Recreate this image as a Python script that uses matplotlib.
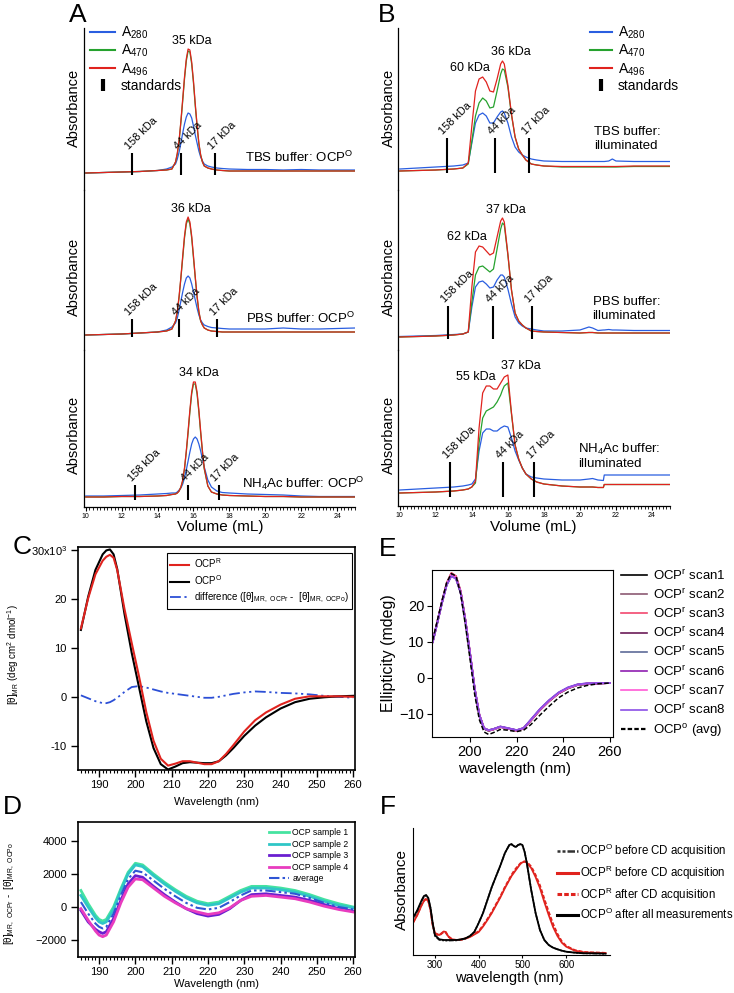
import numpy as np
import matplotlib
matplotlib.use('Agg')
from matplotlib import pyplot as plt
from matplotlib.lines import Line2D
from matplotlib.ticker import MultipleLocator

plt.rcParams['font.family'] = ['Liberation Sans', 'DejaVu Sans']
plt.rcParams['mathtext.default'] = 'regular'

W, H = 734, 993

# ---------------- size exclusion chromatograms (A, B) ----------------
vol_a = [10, 11, 12, 13, 14, 14.5, 14.8, 15.0, 15.1, 15.2, 15.3, 15.4, 15.5, 15.6, 15.7, 15.8, 15.9,
         16.0, 16.1, 16.2, 16.3, 16.4, 16.5, 16.6, 16.8, 17.0, 17.3, 17.6, 18, 19, 20, 21, 22, 23, 24, 25]

tbs_o_blue = [-1, -0.5, 0, 0.5, 1.5, 3, 5, 8, 13, 20, 29, 39, 48, 55, 59, 58, 54, 46, 37, 29, 21, 15, 11, 8,
              6, 5, 4, 3.5, 3, 2.5, 2.5, 2, 2.5, 2, 2, 2]
tbs_o_green = [-1, -0.5, 0, 0.5, 1.5, 2, 3, 10, 18, 31, 50, 71, 93, 111, 121, 120, 108, 89, 66, 46, 28, 17, 10, 6,
               4, 3, 2, 1.5, 1, 1, 1, 1, 1, 1, 1, 1]
tbs_o_red = [-1, -0.5, 0, 0.5, 1.5, 2, 3, 10, 19, 32, 51, 73, 95, 113, 123, 122, 110, 91, 68, 47, 29, 17, 10, 6,
             4, 3, 2, 1.5, 1, 1, 1, 1, 1, 1, 1, 1]

pbs_o_blue = [-2, -1.5, -1, 0, 1, 3, 6, 10, 15, 23, 32, 41, 49, 55, 57, 55, 49, 41, 33, 25, 18, 13, 10, 8,
              6.5, 5.5, 5, 4.5, 4, 4, 4, 5, 4, 4, 4.5, 5]
pbs_o_green = [-2, -1.5, -1, 0, 1, 2, 4, 12, 21, 36, 55, 75, 95, 109, 114, 109, 95, 75, 55, 36, 21, 12, 8, 5,
               3, 2, 1.5, 1, 1, 1, 1, 1, 1, 1, 1, 1]
pbs_o_red = [-2, -1.5, -1, 0, 1, 2, 4, 12, 22, 37, 56, 77, 97, 111, 116, 111, 97, 77, 56, 37, 22, 12, 8, 5,
             3, 2, 1.5, 1, 1, 1, 1, 1, 1, 1, 1, 1]

nh4_o_blue = [1, 1, 1.5, 2, 3, 3.5, 4, 4, 5, 7, 9, 13, 19, 27, 36, 45, 53, 58, 60, 58, 53, 46, 38, 30,
              17, 10, 6, 4.5, 4, 3, 2.5, 2, 1, 0.5, 0.5, 0.5]
nh4_o_green = [0, 0, 0.5, 0.5, 1, 1.5, 2.5, 3, 4, 6, 10, 16, 28, 45, 64, 85, 103, 113, 113, 103, 85, 64, 45, 28,
               11, 5, 3, 2, 1.5, 1, 0.5, 0.5, 0, 0, 0, 0]
nh4_o_red = [0, 0, 0.5, 0.5, 1, 1.5, 2.5, 3, 4, 6, 10, 17, 29, 46, 66, 87, 105, 115, 115, 105, 87, 66, 46, 29,
             11, 5, 3, 2, 1.5, 1, 0.5, 0.5, 0, 0, 0, 0]

vol_b = [10, 11, 12, 13, 13.5, 13.8, 14.0, 14.2, 14.4, 14.6, 14.8, 15.0, 15.2, 15.4, 15.6, 15.7, 15.8,
         16.0, 16.2, 16.4, 16.6, 16.8, 17.0, 17.3, 17.6, 18, 19, 20, 20.5, 20.7, 21.0, 21.3, 21.35,
         21.6, 21.8, 22.0, 23, 24, 25]

tbs_i_blue = [2, 3, 4, 5, 6, 8, 28, 48, 56, 58, 55, 48, 48, 54, 59, 60, 58, 48, 34, 24, 19, 16, 14, 12, 11, 10,
              9.5, 9.5, 9.5, 9.5, 9.5, 9.5, 9.5, 10, 12, 10, 9.5, 9.5, 9.5]
tbs_i_green = [0, 0.5, 1, 2, 3, 7, 30, 55, 68, 73, 70, 63, 64, 80, 97, 102, 101, 84, 56, 34, 22, 16, 11, 7, 6, 5,
               4, 4, 4, 4, 4, 4, 4, 4, 4, 4, 4.5, 4.5, 4.5]
tbs_i_red = [0, 0.5, 1, 2, 3, 8, 45, 80, 92, 94, 89, 80, 79, 92, 107, 110, 107, 86, 57, 34, 22, 16, 11, 7, 6, 5,
             4.5, 4.5, 4.5, 4.5, 4.5, 4.5, 4.5, 4.5, 4.5, 4.5, 5, 5, 5]

pbs_i_blue = [0.5, 1, 1.5, 2.5, 3, 5, 30, 50, 55, 56, 53, 49, 50, 57, 62, 62, 60, 48, 33, 20, 14, 11, 9, 8, 7, 6,
              6, 7, 10, 9, 6.5, 7, 7, 7.5, 7, 7, 6.5, 6.5, 6.5]
pbs_i_green = [0, 0.5, 1, 2, 3, 5, 35, 62, 70, 71, 68, 65, 68, 88, 108, 114, 112, 82, 47, 24, 16, 12, 9, 6, 5.5, 5,
               4.5, 4, 4.5, 4.5, 4, 4, 4, 4, 4, 4, 4, 4, 4]
pbs_i_red = [0, 0.5, 1, 2, 3, 5, 50, 85, 91, 90, 86, 82, 84, 100, 116, 119, 115, 83, 47, 24, 16, 12, 9, 6, 5.5, 5,
             4.5, 4, 4.5, 4.5, 4, 4, 4, 4, 4, 4, 4, 4, 4]

nh4_i_blue = [3, 4, 5, 6, 7, 8, 9, 14, 42, 60, 64, 64, 62, 62, 65, 66, 67, 66, 55, 42, 33, 25, 19, 16, 15, 14,
              13, 13, 14, 14.5, 13, 12.5, 18, 18, 18, 18, 18, 18, 18]
nh4_i_green = [0, 0.5, 1, 2, 3, 4, 6, 10, 50, 75, 82, 84, 86, 91, 98, 103, 107, 110, 79, 48, 34, 25, 19, 14, 11, 9,
               7, 6, 6, 6, 5.5, 5.5, 8.5, 8.5, 8.5, 8.5, 8.5, 8.5, 8.5]
nh4_i_red = [0, 0.5, 1, 2, 3, 4, 6, 12, 65, 100, 107, 107, 104, 104, 110, 113, 116, 118, 80, 48, 34, 25, 19, 14, 11, 9,
             7, 6, 6, 6, 5.5, 5.5, 8.5, 8.5, 8.5, 8.5, 8.5, 8.5, 8.5]

std_labels = ['158 kDa', '44 kDa', '17 kDa']
std_a = [[12.57, 15.3, 17.2], [12.6, 15.2, 17.3], [12.73, 15.7, 17.4]]
std_b = [[12.6, 15.3, 17.2], [12.67, 15.2, 17.33], [12.78, 15.72, 17.44]]

# peak label, elution volume of the peak
peaks_a = [[('35 kDa', 15.7)], [('36 kDa', 15.7)], [('34 kDa', 16.0)]]
peaks_b = [[('60 kDa', 14.6), ('36 kDa', 15.7)], [('62 kDa', 14.4), ('37 kDa', 15.7)],
           [('55 kDa', 14.8), ('37 kDa', 16.0)]]

buffers_a = ['TBS buffer: OCP$^{O}$', 'PBS buffer: OCP$^{O}$', 'NH$_4$Ac buffer: OCP$^{O}$']
buffers_b = ['TBS buffer:\nilluminated', 'PBS buffer:\nilluminated', 'NH$_4$Ac buffer:\nilluminated']

# ---------------- far-UV CD (C) ----------------
wl_c = [185, 187, 189, 191, 192, 193, 194, 195, 197, 199, 201, 203, 205, 207, 209, 211, 213, 215, 217, 219,
        221, 223, 225, 227, 230, 233, 236, 240, 244, 248, 252, 256, 260]
cd_ocp_r = [14.0, 20.2, 25.1, 27.9, 28.7, 29.1, 28.5, 26.0, 18.0, 11.0, 4.2, -3.1, -9.0, -12.7, -14.1, -13.7,
            -13.2, -13.2, -13.5, -13.8, -13.8, -13.2, -11.7, -9.9, -7.1, -4.8, -3.2, -1.6, -0.4, 0.1, 0.1, 0.1, 0.0]
cd_ocp_o = [13.7, 20.5, 26.0, 29.2, 30.0, 30.2, 29.2, 26.2, 17.0, 9.0, 2.0, -5.0, -10.5, -13.8, -14.9, -14.3,
            -13.6, -13.4, -13.5, -13.6, -13.6, -13.2, -12.0, -10.5, -8.0, -5.9, -4.2, -2.4, -1.1, -0.4, -0.1, 0.1, 0.2]
cd_diff = [0.3, -0.3, -0.9, -1.3, -1.3, -1.1, -0.7, -0.2, 1.0, 2.0, 2.2, 1.9, 1.5, 1.1, 0.8, 0.6, 0.4, 0.2,
           0.0, -0.2, -0.2, 0.0, 0.3, 0.6, 0.9, 1.1, 1.0, 0.8, 0.7, 0.5, 0.2, 0.0, -0.2]

# ---------------- difference spectra (D) ----------------
wl_d = [185, 187, 189, 190, 191, 192, 194, 196, 198, 200, 202, 205, 208, 211, 214, 217, 220, 223, 226, 229,
        232, 236, 240, 244, 248, 252, 256, 260]
diff_s1 = [1000, 200, -500, -750, -850, -750, 0, 1100, 2100, 2650, 2550, 2000, 1500, 1050, 650, 350, 200, 300,
           650, 1000, 1250, 1250, 1150, 1000, 750, 450, 200, 0]
diff_s2 = [700, 0, -650, -900, -1000, -900, -150, 1000, 2000, 2550, 2450, 1900, 1400, 950, 550, 250, 100, 200,
           550, 900, 1150, 1150, 1050, 900, 650, 350, 100, -50]
diff_s3 = [-200, -900, -1350, -1500, -1600, -1500, -700, 400, 1400, 1900, 1800, 1250, 750, 300, -100, -400, -550,
           -450, -100, 400, 750, 800, 700, 600, 400, 150, -100, -250]
diff_s4 = [-100, -800, -1450, -1700, -1800, -1700, -900, 250, 1200, 1700, 1650, 1150, 650, 250, -100, -300, -450,
           -350, -50, 400, 650, 700, 600, 500, 300, 50, -150, -300]
diff_avg = [300, -400, -1000, -1200, -1300, -1200, -400, 700, 1700, 2200, 2100, 1600, 1100, 650, 250, -50, -150,
            -50, 300, 700, 1000, 1000, 900, 800, 550, 250, 0, -150]

# ---------------- CD scans (E) ----------------
wl_e = [184, 186, 188, 190, 192, 194, 196, 198, 200, 202, 204, 206, 208, 210, 213, 216, 220, 223, 226, 230,
        234, 238, 242, 246, 250, 255, 260]
scans = [
    [10.2, 15.6, 21.2, 26.3, 29.0, 28.2, 24.0, 16.0, 6.6, -3.2, -10.5, -14.1, -14.7, -14.3, -13.6, -14.0, -14.6,
     -14.0, -11.9, -8.9, -6.4, -4.3, -2.9, -2.0, -1.7, -1.5, -1.4],
    [10.0, 15.4, 21.0, 26.0, 28.7, 27.9, 23.9, 16.1, 6.9, -2.9, -10.2, -14.0, -14.6, -14.2, -13.5, -14.0, -14.6,
     -13.9, -11.8, -8.8, -6.3, -4.2, -2.8, -1.9, -1.6, -1.5, -1.4],
    [10.3, 15.7, 21.3, 26.4, 29.2, 28.3, 24.1, 16.2, 6.9, -3.0, -10.3, -14.0, -14.6, -14.3, -13.6, -14.1, -14.7,
     -14.1, -11.9, -8.9, -6.4, -4.2, -2.8, -1.9, -1.6, -1.5, -1.4],
    [9.9, 15.3, 20.9, 25.9, 28.5, 27.7, 23.7, 15.9, 6.7, -3.1, -10.4, -14.1, -14.6, -14.3, -13.6, -14.0, -14.6,
     -14.0, -11.8, -8.8, -6.3, -4.2, -2.8, -1.9, -1.6, -1.5, -1.4],
    [10.1, 15.5, 21.1, 26.1, 28.6, 27.8, 23.8, 16.0, 6.8, -3.0, -10.3, -14.0, -14.5, -14.2, -13.6, -14.0, -14.5,
     -14.0, -11.7, -8.7, -6.2, -4.1, -2.7, -1.9, -1.6, -1.5, -1.4],
    [10.0, 15.5, 21.0, 25.9, 28.4, 27.6, 23.7, 16.0, 6.9, -2.9, -10.2, -13.9, -14.5, -14.2, -13.5, -13.9, -14.5,
     -13.9, -11.7, -8.7, -6.2, -4.1, -2.7, -1.8, -1.5, -1.5, -1.4],
    [10.1, 15.6, 21.1, 26.2, 28.8, 28.0, 23.9, 16.1, 6.9, -3.0, -10.3, -14.0, -14.6, -14.3, -13.6, -14.0, -14.6,
     -14.0, -11.8, -8.8, -6.3, -4.2, -2.8, -1.9, -1.6, -1.5, -1.4],
    [10.0, 15.4, 20.9, 25.8, 28.3, 27.5, 23.6, 15.9, 6.8, -3.0, -10.3, -14.0, -14.5, -14.2, -13.5, -13.9, -14.5,
     -13.9, -11.6, -8.6, -6.1, -4.0, -2.6, -1.8, -1.5, -1.4, -1.4],
]
scan_avg_o = [10.5, 16.0, 21.5, 26.5, 29.0, 28.3, 23.3, 14.8, 5.3, -4.6, -11.6, -15.0, -15.7, -15.2, -14.3, -14.5,
              -14.9, -14.5, -13.0, -10.3, -7.8, -5.5, -3.9, -2.8, -2.1, -1.6, -1.4]
scan_colors = ['#000000', '#8c5a73', '#f2486e', '#6b1b57', '#5d6b98', '#8f1fb0', '#ff5ad6', '#8b4fe6']

# ---------------- UV-vis absorbance (F) ----------------
wl_f = [250, 260, 270, 275, 280, 285, 290, 295, 300, 310, 320, 325, 330, 340, 350, 360, 370, 380, 390, 400,
        410, 420, 430, 440, 450, 460, 470, 475, 480, 485, 490, 495, 500, 505, 510, 520, 530, 540, 550, 560,
        570, 580, 590, 600, 620, 640, 660, 680, 690]
abs_o_before = [36, 44, 54, 58.5, 59.5, 56.5, 47, 31, 19, 15, 14.5, 14.3, 14.3, 14.5, 14.6, 15.3, 16.5, 19, 23, 32,
                42, 55, 68, 79, 90, 102, 110, 110.5, 109, 108, 110, 110.5, 109.5, 103, 92, 65, 42, 25, 15, 10,
                7.3, 5.7, 4.3, 3.3, 2.3, 1.7, 1.5, 1.3, 1]
abs_r_before = [32, 40, 50, 54, 56, 54, 45, 30, 22, 20, 23.5, 23, 19, 15.5, 15, 15.3, 16.5, 18, 20.5, 23,
                28.5, 35, 42, 50, 58, 67, 75, 79, 82, 85, 88, 91, 92.7, 93.3, 92.3, 87, 78, 67, 53, 40,
                28, 19, 12.3, 8.3, 4.3, 2.7, 2.3, 2, 2]
abs_r_after = [32.5, 40.5, 50.5, 54.5, 56.5, 54, 45, 30, 21.5, 19.5, 23, 22.5, 18.5, 15.3, 15, 15.3, 16.5, 18.3,
               21, 23.8, 29.5, 36, 43, 51, 59, 68, 76, 80, 83.5, 86.5, 89, 91.5, 93, 93.6, 93, 88.5, 80, 69.5,
               56, 43, 31, 21, 13.5, 9, 4.8, 3, 2.5, 2.3, 2]
abs_o_after = [37, 45, 55, 59, 60, 57, 47, 32, 20, 15.7, 15, 15, 15, 15, 15, 15.7, 16.7, 19, 23, 32,
               42, 55, 68, 79, 90, 102, 110, 111, 109, 108, 110, 111, 110, 103, 92, 65, 42, 25, 15, 10,
               7.3, 5.7, 4.3, 3.3, 2.3, 1.7, 1.7, 1.5, 1.3]

BLUE, GREEN, RED = '#2a5ee0', '#26a22e', '#e0231e'

fig = plt.figure(figsize=(W / 100, H / 100), dpi=100)


def px_axes(x0, y0, x1, y1):
    ax = fig.add_axes([x0 / W, 1 - y1 / H, (x1 - x0) / W, (y1 - y0) / H])
    ax.patch.set_alpha(0)
    return ax


def ftext(x, y, s, **kw):
    fig.text(x / W, 1 - y / H, s, **kw)


def chrom(box, ylim, vol, blue, green, red, stds, span, peaks, offs, buf, buf_xy, buf_ha, bottom):
    ax = px_axes(*box)
    ax.plot(vol, blue, color=BLUE, lw=0.9)
    ax.plot(vol, green, color=GREEN, lw=0.9)
    ax.plot(vol, red, color=RED, lw=0.9)
    ax.set_xlim(9.9, 25.0)
    ax.set_ylim(*ylim)
    ax.vlines(stds, span[0], span[1], color='k', lw=1.5)
    for v, lab in zip(stds, std_labels):
        ax.text(v - 0.1, span[1] + 2, lab, rotation=45, rotation_mode='anchor',
                ha='left', va='bottom', fontsize=7.8)
    for (lab, v), (dx, dy) in zip(peaks, offs):
        ax.annotate(lab, (v, red[vol.index(v)]), xytext=(dx * 0.72, dy * 0.72),
                    textcoords='offset points', ha='center', va='bottom', fontsize=9)
    ax.text(buf_xy[0], buf_xy[1], buf, ha=buf_ha, va='center', fontsize=9.5, linespacing=1.15)
    for s in ['top', 'right']:
        ax.spines[s].set_visible(False)
    ax.spines['left'].set_linewidth(0.9)
    ax.set_yticks([])
    if bottom:
        ax.spines['bottom'].set_linewidth(0.9)
        ax.set_xticks(range(10, 25, 2))
        ax.xaxis.set_minor_locator(MultipleLocator(0.2))
        ax.tick_params(axis='x', which='major', direction='out', length=3, width=0.8, labelsize=5, pad=1.5)
        ax.tick_params(axis='x', which='minor', direction='out', length=2, width=0.6)
    else:
        ax.spines['bottom'].set_visible(False)
        ax.set_xticks([])
    return ax


# panel A
rows = [(28, 190), (190, 350), (350, 507)]
ylims_a = [(-18, 144), (-17, 143), (-10, 147)]
spans_a = [(-3, 19), (-4, 14), (-3, 12)]
offs_a = [[(4, 2)], [(3, 2)], [(5, 3)]]
traces_a = [(tbs_o_blue, tbs_o_green, tbs_o_red), (pbs_o_blue, pbs_o_green, pbs_o_red),
            (nh4_o_blue, nh4_o_green, nh4_o_red)]
bufpos_a = [(24.9, 15), (25.0, 15), (25.55, 14)]
for i in range(3):
    b, g, r = traces_a[i]
    chrom((84, rows[i][0], 355, rows[i][1]), ylims_a[i], vol_a, b, g, r, std_a[i], spans_a[i],
          peaks_a[i], offs_a[i], buffers_a[i], bufpos_a[i], 'right', i == 2)

# panel B
rows_b = [(28, 190), (190, 350), (350, 506)]
ylims_b = [(-19, 143), (-13, 147), (-13, 143)]
spans_b = [(-2, 33), (-2, 31), (-4, 31)]
offs_b = [[(-13, 3), (8, 3)], [(-12, 3), (3, 2)], [(-10, 3), (13, 3)]]
traces_b = [(tbs_i_blue, tbs_i_green, tbs_i_red), (pbs_i_blue, pbs_i_green, pbs_i_red),
            (nh4_i_blue, nh4_i_green, nh4_i_red)]
bufpos_b = [(20.8, 32), (20.7, 28), (19.9, 37)]
for i in range(3):
    b, g, r = traces_b[i]
    chrom((398, rows_b[i][0], 670, rows_b[i][1]), ylims_b[i], vol_b, b, g, r, std_b[i], spans_b[i],
          peaks_b[i], offs_b[i], buffers_b[i], bufpos_b[i], 'left', i == 2)

for yy in [108, 277, 435]:
    ftext(74, yy, 'Absorbance', rotation=90, ha='center', va='center', fontsize=10.5)
    ftext(389, yy, 'Absorbance', rotation=90, ha='center', va='center', fontsize=10.5)
ftext(220, 527, 'Volume (mL)', ha='center', va='center', fontsize=11)
ftext(533, 527, 'Volume (mL)', ha='center', va='center', fontsize=11)

std_handle = Line2D([], [], color='k', marker='|', ls='None', markersize=8, mew=3)
abs_handles = [Line2D([], [], color=BLUE, lw=1.5), Line2D([], [], color=GREEN, lw=1.5),
               Line2D([], [], color=RED, lw=1.5), std_handle]
abs_labels = ['A$_{280}$', 'A$_{470}$', 'A$_{496}$', 'standards']
fig.legend(abs_handles, abs_labels, loc='upper left', bbox_to_anchor=(90 / W, 1 - 25 / H), frameon=False,
           fontsize=10, handlelength=1.8, handletextpad=0.4, labelspacing=0.12, borderpad=0, borderaxespad=0)
fig.legend(abs_handles, abs_labels, loc='upper left', bbox_to_anchor=(590 / W, 1 - 25 / H), frameon=False,
           fontsize=10, handlelength=1.6, handletextpad=0.4, labelspacing=0.12, borderpad=0, borderaxespad=0)


def igor_axes(ax):
    for s in ax.spines.values():
        s.set_linewidth(1.2)
    ax.set_xlim(184.2, 260.5)
    ax.set_xticks(range(190, 261, 10))
    ax.xaxis.set_minor_locator(MultipleLocator(1))
    ax.tick_params(which='major', direction='out', length=5, width=1, labelsize=8, pad=2)
    ax.tick_params(which='minor', direction='out', length=2.5, width=0.8)
    ax.tick_params(axis='y', which='minor', left=False)
    ax.tick_params(axis='y', pad=3)


# panel C
axc = px_axes(78, 547, 355, 770)
axc.plot(wl_c, cd_diff, color='#2c4fd6', lw=1.3, ls=(0, (6, 2, 1.2, 2, 1.2, 2)))
lo, = axc.plot(wl_c, cd_ocp_o, color='k', lw=1.5)
lr, = axc.plot(wl_c, cd_ocp_r, color=RED, lw=1.5)
ld = Line2D([], [], color='#2c4fd6', lw=1.3, ls=(0, (6, 2, 1.2, 2, 1.2, 2)))
igor_axes(axc)
axc.set_ylim(-15.0, 30.7)
axc.set_yticks([-10, 0, 10, 20, 30])
axc.set_yticklabels(['-10', '0', '10', '20', '30x10$^3$'])
legc = axc.legend([lr, lo, ld], ['OCP$^R$', 'OCP$^O$',
                                 'difference ([\u03b8]$_{MR,\\ OCPr}$ -  [\u03b8]$_{MR,\\ OCPo}$)'],
                  loc='upper left', bbox_to_anchor=(167 / W, 1 - 553 / H), bbox_transform=fig.transFigure,
                  fancybox=False, edgecolor='k', framealpha=1, fontsize=7, handlelength=1.9,
                  handletextpad=0.5, labelspacing=0.35, borderpad=0.35, borderaxespad=0)
legc.get_frame().set_linewidth(0.8)
ftext(13, 655, '[\u03b8]$_{MR}$ (deg cm$^2$ dmol$^{-1}$)', rotation=90, ha='center', va='center', fontsize=7)
ftext(216, 802, 'Wavelength (nm)', ha='center', va='center', fontsize=8)

# panel D
axd = px_axes(78, 822, 355, 957)
d_series = [(diff_s1, '#45e3a0', 'OCP sample 1'), (diff_s2, '#2fc6c6', 'OCP sample 2'),
            (diff_s3, '#6a1fd0', 'OCP sample 3'), (diff_s4, '#e83cbf', 'OCP sample 4')]
for vals, col, lab in d_series:
    axd.plot(wl_d, vals, color=col, lw=2, label=lab)
axd.plot(wl_d, diff_avg, color='#2f55d4', lw=1.5, ls=(0, (5, 1.5, 1.2, 1.5, 1.2, 1.5)), label='average')
igor_axes(axd)
axd.set_ylim(-3030, 5150)
axd.set_yticks([-2000, 0, 2000, 4000])
axd.legend(loc='upper left', bbox_to_anchor=(269 / W, 1 - 828 / H), bbox_transform=fig.transFigure,
           frameon=False, fontsize=6.2, handlelength=2.3, handletextpad=0.4, labelspacing=0.3,
           borderpad=0, borderaxespad=0)
ftext(10, 893, '[\u03b8]$_{MR,\\ OCPr}$ -  [\u03b8]$_{MR,\\ OCPo}$', rotation=90, ha='center', va='center',
      fontsize=7)
ftext(216, 984, 'Wavelength (nm)', ha='center', va='center', fontsize=8)

# panel E
axe = px_axes(432, 570, 613, 737)
e_handles = []
for k in range(8):
    ln, = axe.plot(wl_e, scans[k], color=scan_colors[k], lw=1.3)
    e_handles.append(ln)
la, = axe.plot(wl_e, scan_avg_o, color='k', lw=1.1, ls=(0, (3, 1.5)))
axe.set_xlim(183.7, 261.3)
axe.set_ylim(-16.4, 30)
axe.set_xticks([200, 220, 240, 260])
axe.set_yticks([-10, 0, 10, 20])
for s in axe.spines.values():
    s.set_linewidth(0.8)
axe.tick_params(direction='out', length=3.5, width=0.8, labelsize=10.5, pad=2)
e_labels = ['OCP$^r$ scan%d' % (k + 1) for k in range(8)] + ['OCP$^o$ (avg)']
e_leg_handles = [Line2D([], [], color=c, lw=1.2) for c in scan_colors] + \
                [Line2D([], [], color='k', lw=1.6, ls=(0, (2, 1)))]
fig.legend(e_leg_handles, e_labels, loc='upper left', bbox_to_anchor=(621 / W, 1 - 568 / H), frameon=False,
           fontsize=9.5, handlelength=2.0, handletextpad=0.45, labelspacing=0.36, borderpad=0, borderaxespad=0)
ftext(389, 653, 'Ellipticity (mdeg)', rotation=90, ha='center', va='center', fontsize=11.5)
ftext(515, 769, 'wavelength (nm)', ha='center', va='center', fontsize=11)

# panel F
axf = px_axes(413, 828, 610, 955)
dd = (0, (1.2, 0.8, 1.2, 0.8, 3, 0.8))
axf.plot(wl_f, abs_r_after, color=RED, lw=1.4, ls=(0, (2, 1)))
axf.plot(wl_f, abs_r_before, color=RED, lw=1.3)
axf.plot(wl_f, abs_o_before, color='#333333', lw=1.2, ls=dd)
axf.plot(wl_f, abs_o_after, color='k', lw=1.3)
axf.set_xlim(250, 700)
axf.set_ylim(0, 127)
axf.set_yticks([])
axf.set_xticks([300, 400, 500, 600])
for s in ['top', 'right']:
    axf.spines[s].set_visible(False)
axf.tick_params(direction='out', length=2.5, width=0.8, labelsize=7, pad=1)
f_handles = [Line2D([], [], color='#333333', lw=1.8, ls=dd), Line2D([], [], color=RED, lw=2.2),
             Line2D([], [], color=RED, lw=2.2, ls=(0, (1.5, 0.7))), Line2D([], [], color='k', lw=2.2)]
f_labels = ['OCP$^O$ before CD acquisition', 'OCP$^R$ before CD acquisition',
            'OCP$^R$ after CD acquisition', 'OCP$^O$ after all measurements']
fig.legend(f_handles, f_labels, loc='upper left', bbox_to_anchor=(557 / W, 1 - 842 / H), frameon=False,
           fontsize=8.3, handlelength=1.8, handletextpad=0.2, labelspacing=0.3, borderpad=0, borderaxespad=0)
ftext(402, 890, 'Absorbance', rotation=90, ha='center', va='center', fontsize=11)
ftext(509, 978, 'wavelength (nm)', ha='center', va='center', fontsize=10.5)

# panel letters
for lab, x, y in [('A', 78, 15), ('B', 387, 15), ('C', 22, 547), ('D', 12, 807), ('E', 388, 549), ('F', 388, 807)]:
    ftext(x, y, lab, ha='center', va='center', fontsize=19)

fig.savefig('out.png', dpi=100)
